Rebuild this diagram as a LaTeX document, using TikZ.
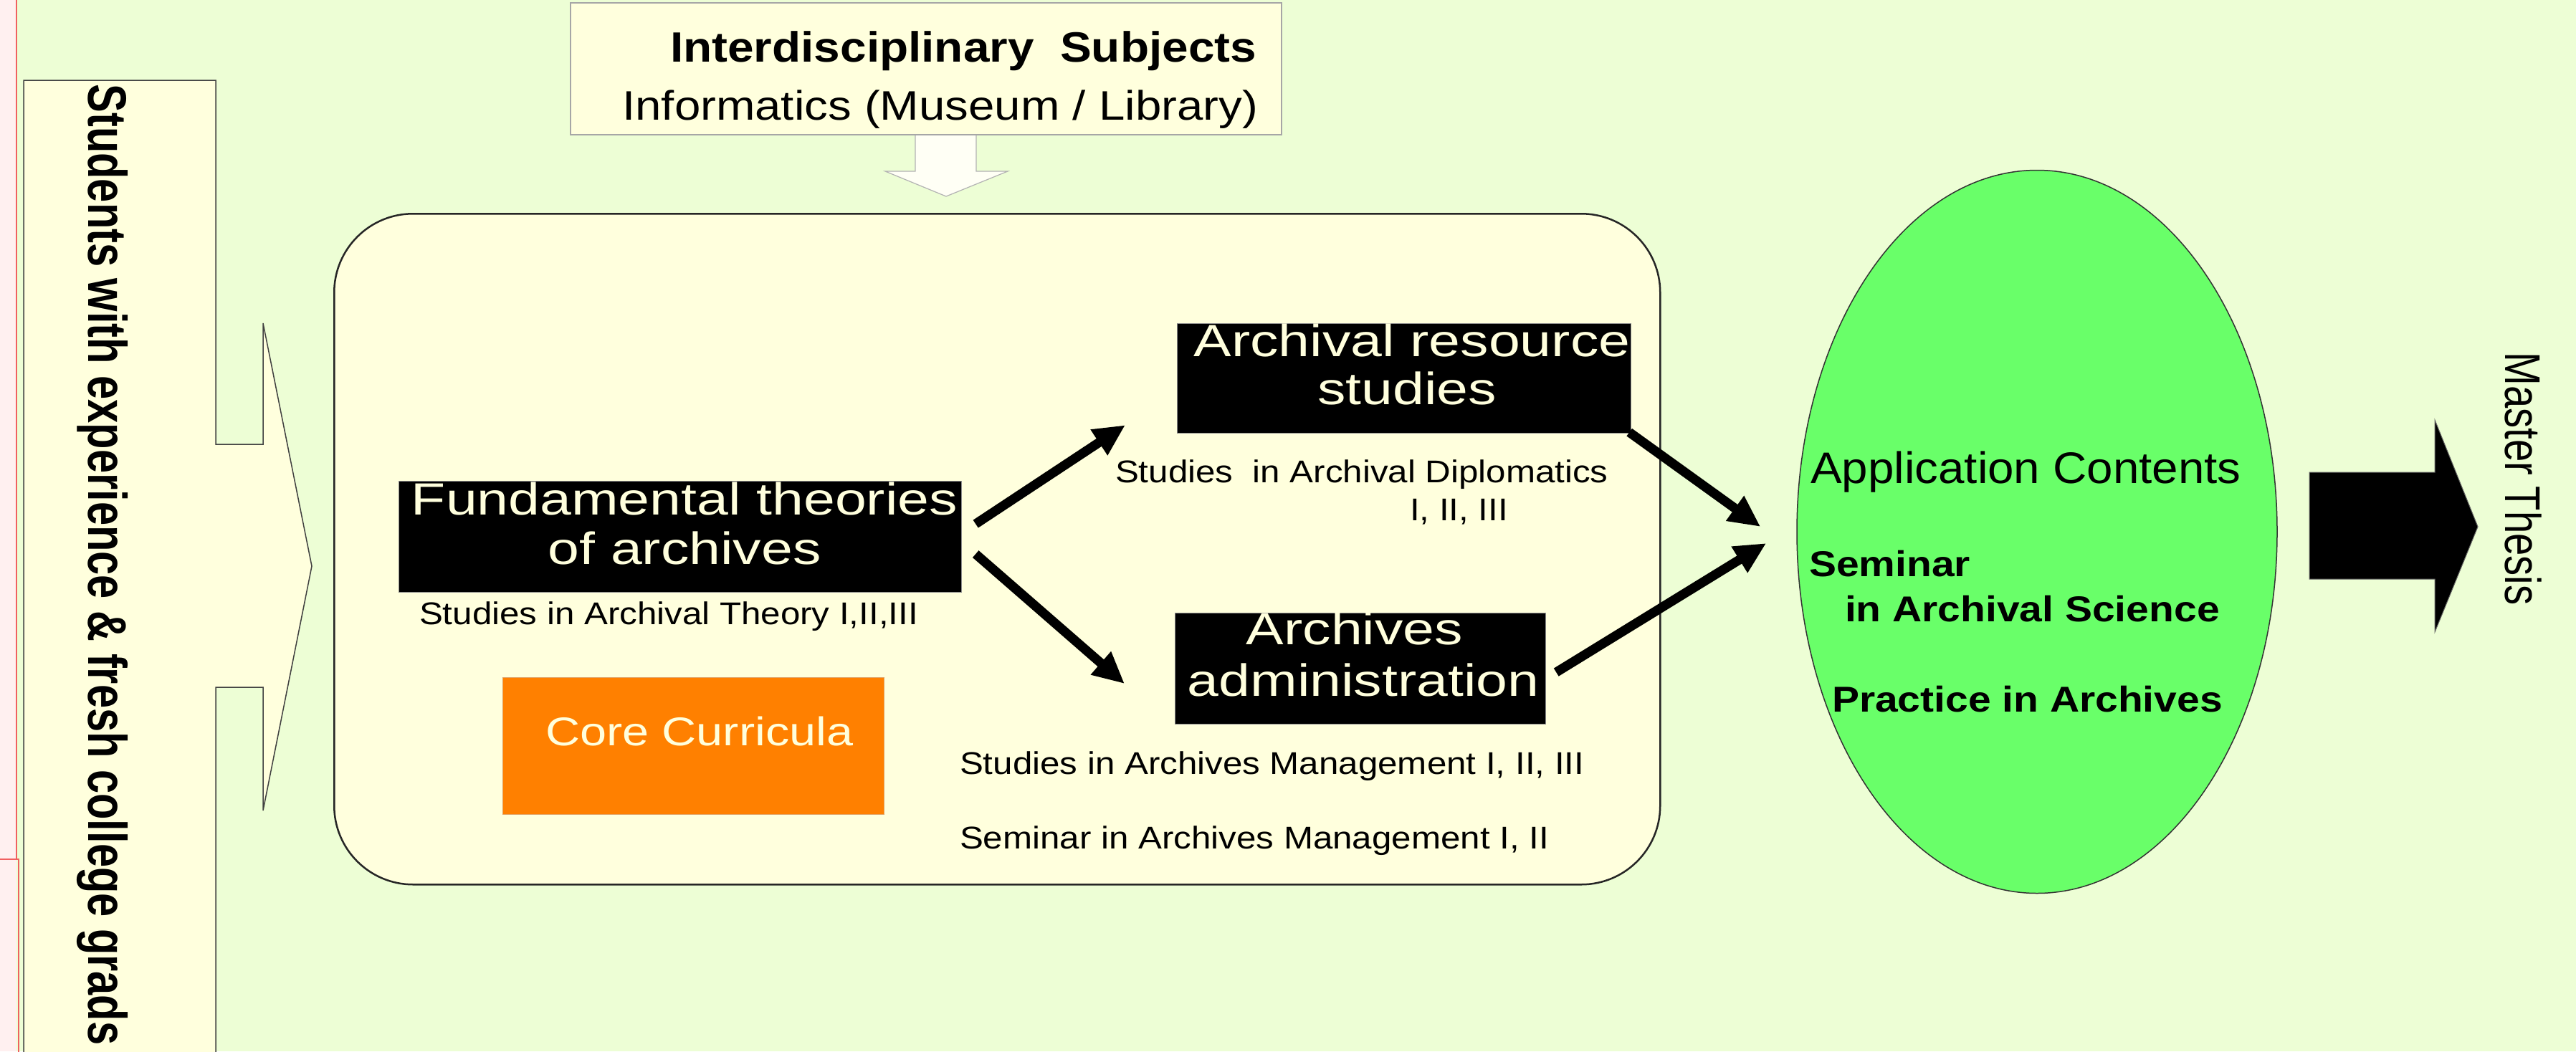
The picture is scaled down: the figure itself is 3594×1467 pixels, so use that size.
\documentclass[tikz,border=0pt]{standalone}
\usepackage{fontspec}
\setmainfont{Liberation Sans}
\usepackage{graphicx}
\usetikzlibrary{arrows.meta,shapes.geometric}
\definecolor{bggreen}{HTML}{EDFED5}
\definecolor{cream}{HTML}{FFFFDD}
\definecolor{appgreen}{HTML}{69FF69}
\definecolor{corange}{HTML}{FF8000}
\definecolor{pinkish}{HTML}{FFF0F0}
\definecolor{redline}{HTML}{F06060}
\newcommand{\fsz}[1]{\fontsize{#1pt}{#1pt}\selectfont}
\newcommand{\vsq}[2]{\scalebox{1}[#1]{#2}}
\tikzset{
  blackbox/.style={fill=black, draw=black!45, line width=1.2pt, inner sep=0pt, anchor=north west},
  txt/.style={inner sep=0pt, outer sep=0pt},
  conn/.style={line width=13pt, black, -{Triangle[length=44pt,width=40pt]}},
  bigtxt/.style={txt, text=cream},
}
\begin{document}
\begin{tikzpicture}[x=1pt,y=-1pt]
\fill[bggreen] (0,0) rectangle (3594,1467);
\useasboundingbox (0,0) rectangle (3594,1467);
% left pink strip
\fill[pinkish] (0,0) rectangle (23,1467);
\draw[redline, line width=2pt] (23,0) -- (23,1199) -- (0,1199);
\draw[redline, line width=2pt] (23,1199) -- (26,1199) -- (26,1480);
% students arrow box
\draw[fill=cream, draw=black!75, line width=1.5pt]
  (33,1480) -- (33,112) -- (301,112) -- (301,620) -- (367,620) -- (367,451)
  -- (435,790) -- (367,1131) -- (367,959) -- (301,959) -- (301,1480);
\node[txt, rotate=-90, anchor=base] (stud) at (123,788)
  {\fsz{76}\bfseries\scalebox{0.784}[1]{Students with experience \& fresh college grads}};
% down block arrow
\draw[fill=white!70!cream, draw=black!30, line width=1.2pt]
  (1277,180) -- (1277,239) -- (1235,239) -- (1320,274) -- (1406,239) -- (1362,239) -- (1362,180) -- cycle;
% interdisciplinary box
\node (inter) [draw=black!35, fill=cream, line width=1.5pt, inner sep=0pt,
  minimum width=992pt, minimum height=184pt, anchor=north west] at (795,3) {};
\node[txt, anchor=base east] (inter1) at (1753,86)
  {\fsz{65.7}\bfseries\vsq{0.9}{Interdisciplinary~ Subjects}};
\node[txt, anchor=base east] (inter2) at (1755,167)
  {\fsz{65.4}\vsq{0.88}{Informatics (Museum / Library)}};
% main rounded box
\node (core) [draw=black!85, fill=cream, line width=2.5pt, rounded corners=110pt, inner sep=0pt,
  minimum width=1850pt, minimum height=936pt, anchor=north west] at (465,297) {};
% fundamental
\node (fund) [blackbox, minimum width=785pt, minimum height=155pt] at (556,671) {};
\node[bigtxt, anchor=base] (fund1) at (955,718) {\fsz{78.8}\vsq{0.8}{Fundamental theories}};
\node[bigtxt, anchor=base] (fund2) at (955,787) {\fsz{78.8}\vsq{0.8}{of archives}};
\node[txt, anchor=base west] (fundsub) at (585,871)
  {\fsz{49.3}\vsq{0.89}{Studies in Archival Theory I,II,III}};
% core curricula
\node (cc) [fill=corange, draw=corange!80!black!60, line width=0.8pt, inner sep=0pt,
  minimum width=532pt, minimum height=191pt, anchor=north west] at (701,945) {};
\node[bigtxt, anchor=base west] (cctxt) at (761,1040) {\fsz{66.6}\vsq{0.84}{Core Curricula}};
% archival resource
\node (res) [blackbox, minimum width=633pt, minimum height=153pt] at (1642,451) {};
\node[bigtxt, anchor=base] (res1) at (1970,497) {\fsz{78.8}\vsq{0.8}{Archival resource}};
\node[bigtxt, anchor=base] (res2) at (1963,564) {\fsz{78.8}\vsq{0.8}{studies}};
\node[txt, anchor=base west] (ressub1) at (1556,673)
  {\fsz{49.3}\vsq{0.89}{Studies~ in Archival Diplomatics}};
\node[txt, anchor=base west] (ressub2) at (1967,726)
  {\fsz{49.3}\vsq{0.89}{I, II, III}};
% archives administration
\node (adm) [blackbox, minimum width=517pt, minimum height=155pt] at (1639,855) {};
\node[bigtxt, anchor=base] (adm1) at (1890,899) {\fsz{78.8}\vsq{0.8}{Archives}};
\node[bigtxt, anchor=base] (adm2) at (1902,971) {\fsz{78.8}\vsq{0.8}{administration}};
\node[txt, anchor=base west] (admsub1) at (1339,1080)
  {\fsz{49.3}\vsq{0.89}{Studies in Archives Management I, II, III}};
\node[txt, anchor=base west] (admsub2) at (1339,1184)
  {\fsz{49.3}\vsq{0.89}{Seminar in Archives Management I, II}};
% application ellipse
\node (app) [ellipse, draw=black!80, fill=appgreen, line width=1.5pt, inner sep=0pt,
  minimum width=670pt, minimum height=1009pt] at (2842,742) {};
\node[txt, anchor=base west] (app1) at (2526,674) {\fsz{65.5}\vsq{0.94}{Application Contents}};
\node[txt, anchor=base west] (app2) at (2524,804) {\fsz{57}\bfseries\vsq{0.88}{Seminar}};
\node[txt, anchor=base west] (app3) at (2574,867) {\fsz{57}\bfseries\vsq{0.88}{in Archival Science}};
\node[txt, anchor=base west] (app4) at (2556,993) {\fsz{57}\bfseries\vsq{0.88}{Practice in Archives}};
% master thesis arrow
\draw[fill=black, draw=black!60, line width=1pt]
  (3222,659) -- (3397,659) -- (3397,586) -- (3457,735) -- (3397,882) -- (3397,808) -- (3222,808) -- cycle;
\node[txt, rotate=-90, anchor=base] (mt) at (3495,668) {\fsz{70}\scalebox{0.803}[1]{Master Thesis}};
% connectors
\draw[conn] ([xshift=19pt,yshift=18pt]fund.east) -- ([xshift=-72pt,yshift=12pt]res.south west);
\draw[conn] ([xshift=19pt,yshift=-24pt]fund.east) -- ([xshift=-70pt,yshift=-21pt]adm.west);
\draw[conn] ([xshift=-3pt,yshift=2pt]res.south east) -- ([xshift=-50pt,yshift=7pt]app.west);
\draw[conn] ([xshift=14pt,yshift=-5pt]adm.east) -- ([xshift=-42pt,yshift=-16pt]app.west);
\end{tikzpicture}
\end{document}
